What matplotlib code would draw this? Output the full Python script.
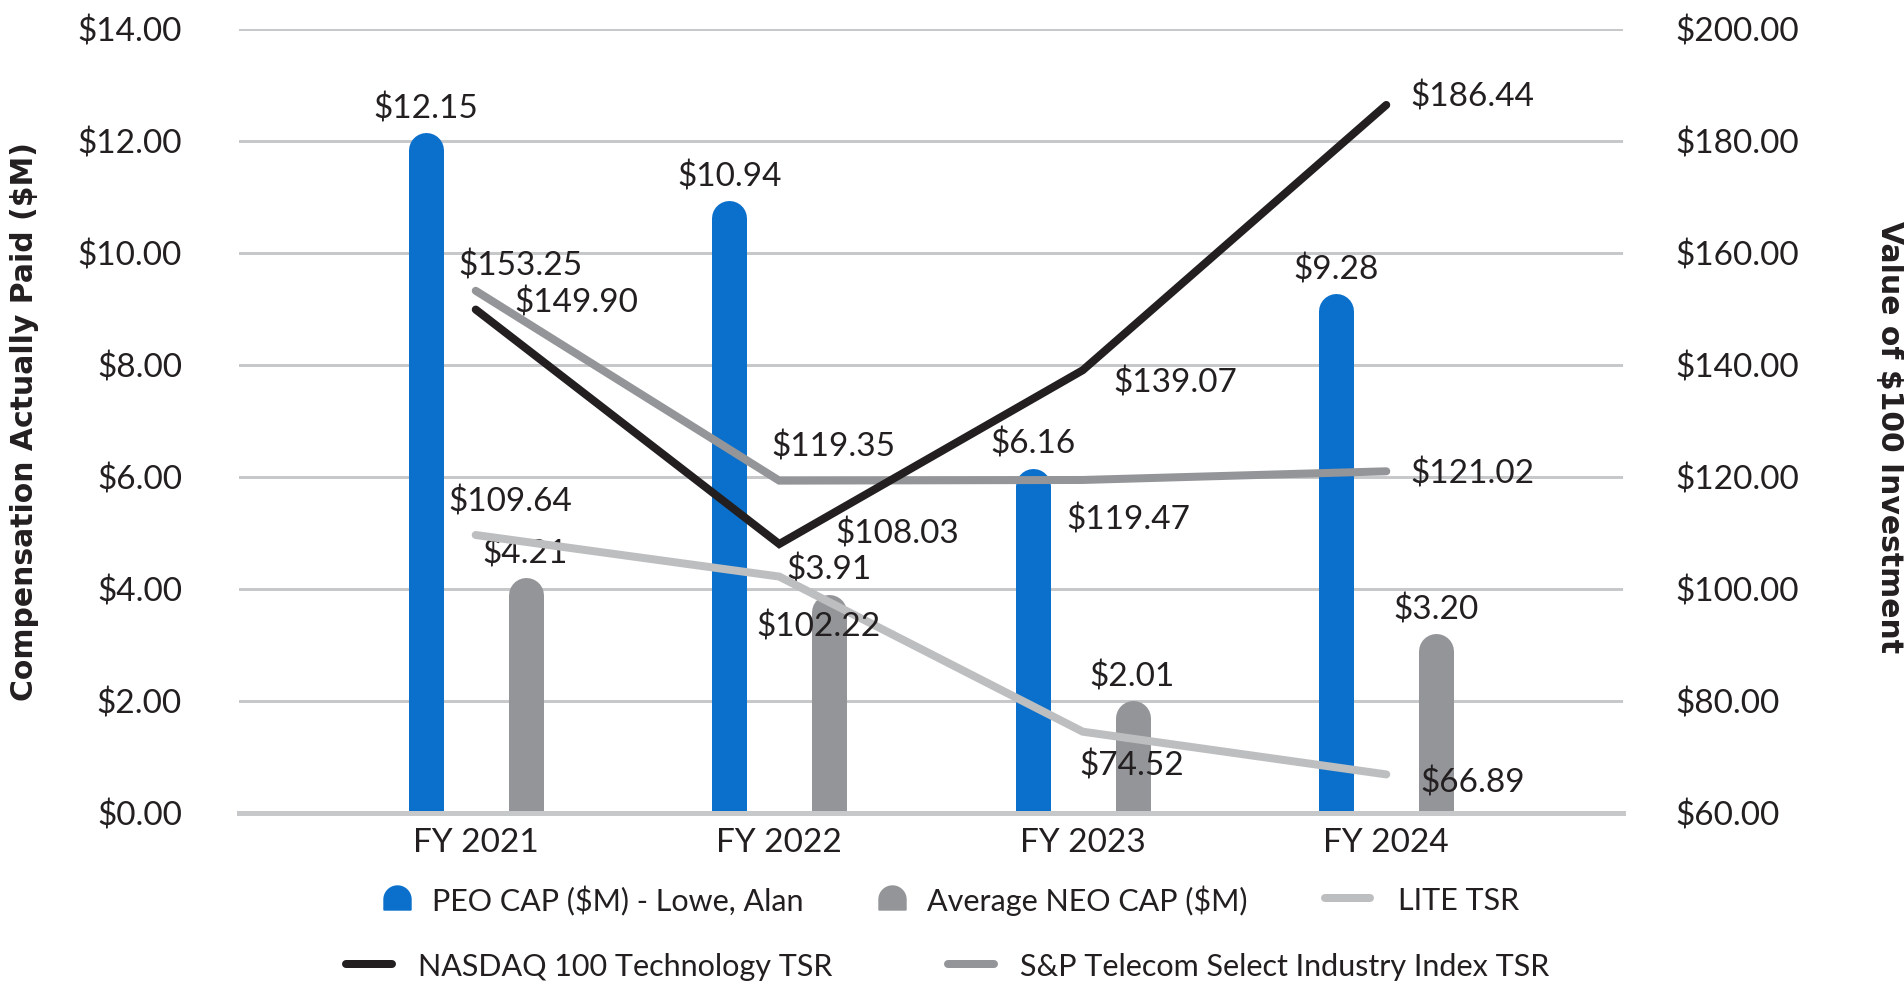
import matplotlib
matplotlib.use("Agg")
import matplotlib.pyplot as plt
import matplotlib.transforms as mtransforms
import numpy as np
from matplotlib.lines import Line2D
from matplotlib.patches import Polygon

# chart data
years = ["FY 2021", "FY 2022", "FY 2023", "FY 2024"]
peo_cap = [12.15, 10.94, 6.16, 9.28]
neo_cap = [4.21, 3.91, 2.01, 3.20]
lite_tsr = [109.64, 102.22, 74.52, 66.89]
nasdaq_tsr = [149.90, 108.03, 139.07, 186.44]
sp_tsr = [153.25, 119.35, 119.47, 121.02]
left_ticks = [0, 2, 4, 6, 8, 10, 12, 14]
right_ticks = [60, 80, 100, 120, 140, 160, 180, 200]

BLUE = "#0b70cb"
GRAY = "#939598"
LIGHT = "#bcbec0"
BLACK = "#231f20"
GRID = "#c7c8ca"

plt.rcParams["font.family"] = ["Lato", "DejaVu Sans"]
plt.rcParams["font.size"] = 24
plt.rcParams["text.color"] = BLACK

fig = plt.figure(figsize=(19.04, 10), dpi=100)
W, H = 1904, 1000


def px(v):
    """pixels -> points"""
    return v * 72 / fig.dpi


ax = fig.add_axes([239 / W, 1 - 813 / H, (1623 - 239) / W, (813 - 29) / H])
ax2 = ax.twinx()

x = np.arange(len(years))
off = 0.164

ax.set_xlim(-0.78, 3.78)
ax.set_ylim(0, 14)
ax2.set_ylim(60, 200)

ax.set_xticks(x, years)
ax.set_yticks(left_ticks, [f"${v:.2f}" for v in left_ticks])
ax2.set_yticks(right_ticks, [f"${v:.2f}" for v in right_ticks])
ax.tick_params(axis="x", length=0, pad=11, labelcolor=BLACK)
ax.tick_params(axis="y", length=0, pad=px(57), labelcolor=BLACK)
ax2.tick_params(axis="y", length=0, pad=px(52), labelcolor=BLACK)
for a in (ax, ax2):
    for s in a.spines.values():
        s.set_visible(False)

for v in left_ticks[1:]:
    ax.axhline(v, color=GRID, lw=px(3), zorder=0)
ax.axhline(0, color=GRID, lw=px(5), zorder=3, clip_on=False)

# bars with round tops
bar_lw = px(35)
shift = mtransforms.offset_copy(ax.transData, fig=fig, y=-bar_lw / 2, units="points")
for xs, vals, col in [(x - off, peo_cap, BLUE), (x + off, neo_cap, GRAY)]:
    for xi, v in zip(xs, vals):
        ax.plot([xi, xi], [0, v], color=col, lw=bar_lw, solid_capstyle="round",
                transform=shift, zorder=2)
        ax.annotate(f"${v:.2f}", (xi, v), xytext=(0, 17), textcoords="offset points",
                    ha="center", va="center", zorder=5)

# TSR lines
line_lw = px(8)
series = [
    (lite_tsr, LIGHT, [(25, 23.5), (28, -36.5), (35, -24.5), (62, -6)]),
    (sp_tsr, GRAY, [(32, 17.5), (39, 24.5), (33, -29), (62, -2)]),
    (nasdaq_tsr, BLACK, [(72.5, 4.5), (85, 7), (67, -9.5), (62, 6)]),
]
for vals, col, offs in series:
    ax2.plot(x, vals, color=col, lw=line_lw, solid_capstyle="round",
             solid_joinstyle="miter", zorder=3)
    for xi, v, o in zip(x, vals, offs):
        ax2.annotate(f"${v:.2f}", (xi, v), xytext=o, textcoords="offset points",
                     ha="center", va="center", zorder=5)

# axis titles
fig.text(25 / W, 1 - 422 / H, "Compensation Actually Paid ($M)", rotation=90,
         ha="center", va="center", fontsize=21.5, fontweight="bold", family="DejaVu Sans")
fig.text(1890 / W, 1 - 437 / H, "Value of $100 Investment", rotation=270,
         ha="center", va="center", fontsize=21.5, fontweight="bold", family="DejaVu Sans")


# legend drawn by hand
def round_top(x0, y0, w, h, color):
    r = w / 2
    t = np.linspace(0, np.pi, 30)
    arc = np.column_stack([x0 + r + r * np.cos(t), y0 - h + r - r * np.sin(t)])
    pts = np.vstack([[x0 + w, y0], arc, [x0, y0]])
    pts = np.column_stack([pts[:, 0] / W, 1 - pts[:, 1] / H])
    fig.patches.append(Polygon(pts, closed=True, color=color, transform=fig.transFigure))


def line_handle(x0, x1, y, color):
    fig.add_artist(Line2D([(x0 + 4) / W, (x1 - 4) / W], [1 - y / H, 1 - y / H], color=color,
                          lw=line_lw, solid_capstyle="round", transform=fig.transFigure))


row1, row2 = 898, 964
leg_size = 22
round_top(384, 910, 27, 24, BLUE)
fig.text(432 / W, 1 - (row1 + 3) / H, "PEO CAP ($M) - Lowe, Alan", va="center", fontsize=leg_size)
round_top(879, 910, 27, 24, GRAY)
fig.text(927 / W, 1 - (row1 + 3) / H, "Average NEO CAP ($M)", va="center", fontsize=leg_size)
line_handle(1321, 1374, row1, LIGHT)
fig.text(1398 / W, 1 - (row1 + 3) / H, "LITE TSR", va="center", fontsize=leg_size)
line_handle(342, 396, row2, BLACK)
fig.text(418 / W, 1 - (row2 + 3) / H, "NASDAQ 100 Technology TSR", va="center", fontsize=leg_size)
line_handle(944, 998, row2, GRAY)
fig.text(1020 / W, 1 - (row2 + 3) / H, "S&P Telecom Select Industry Index TSR", va="center",
         fontsize=leg_size)

fig.savefig("out.png", dpi=100)
